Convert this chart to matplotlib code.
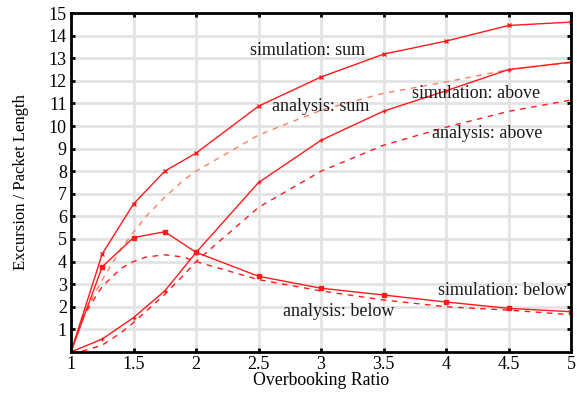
import matplotlib
matplotlib.use("Agg")
import matplotlib.pyplot as plt

# ------------------------------------------------------------
# Data
# ------------------------------------------------------------
ratio = [1, 1.25, 1.5, 1.75, 2, 2.5, 3, 3.5, 4, 4.5, 5]

sim_sum = [0, 4.34, 6.55, 8.0, 8.8, 10.88, 12.17, 13.18, 13.76, 14.45, 14.6]
sim_above = [0, 0.57, 1.52, 2.7, 4.4, 7.5, 9.37, 10.66, 11.56, 12.5, 12.83]
sim_below = [0, 3.77, 5.06, 5.32, 4.41, 3.35, 2.82, 2.52, 2.21, 1.93, 1.78]

ana_x = [1, 1.1, 1.25, 1.4, 1.5, 1.6, 1.75, 1.9, 2, 2.5, 3, 3.5, 4, 4.5, 5]
ana_above = [0, 0.05, 0.3, 0.85, 1.3, 1.8, 2.55, 3.4, 4.0, 6.4, 8.0, 9.15, 9.95, 10.65, 11.15]
ana_below = [0, 1.6, 2.9, 3.7, 4.0, 4.2, 4.3, 4.2, 4.0, 3.2, 2.7, 2.3, 2.0, 1.85, 1.65]
ana_sum = [a + b for a, b in zip(ana_above, ana_below)]

x_ticks = [1, 1.5, 2, 2.5, 3, 3.5, 4, 4.5, 5]
x_labels = ['1', '1.5', '2', '2.5', '3', '3.5', '4', '4.5', '5']
y_ticks = list(range(1, 16))

labels = [
    ('simulation: sum', 2.89, 13.36),
    ('analysis: sum', 3.0, 10.88),
    ('simulation: above', 4.24, 11.46),
    ('analysis: above', 4.33, 9.65),
    ('simulation: below', 4.45, 2.7),
    ('analysis: below', 3.14, 1.8),
]

# ------------------------------------------------------------
# Plot
# ------------------------------------------------------------
plt.rcParams['font.family'] = ['Liberation Serif', 'DejaVu Serif']

fig = plt.figure(figsize=(5.77, 3.95), dpi=100)
ax = fig.add_axes([0.123, 0.109, 0.867, 0.858])

red = '#ff1a1a'
orange = '#ff7f60'
dash = (0, (4, 4))

ax.plot(ana_x, ana_sum, color=orange, lw=1.0, linestyle=dash)
ax.plot(ana_x, ana_above, color=red, lw=1.0, linestyle=dash)
ax.plot(ana_x, ana_below, color=red, lw=1.0, linestyle=dash)

ax.plot(ratio, sim_sum, color=red, lw=1.0, marker='x', ms=3, mew=1.0)
ax.plot(ratio, sim_above, color=red, lw=1.0, marker='+', ms=3.5, mew=1.0)
ax.plot(ratio, sim_below, color=red, lw=1.0, marker='s', ms=3)

for text, x, y in labels:
    ax.text(x, y, text, ha='center', va='center', fontsize=13, color='#1a1a1a')

ax.set_xlim(1, 5)
ax.set_ylim(0, 15)
ax.set_xticks(x_ticks)
ax.set_xticklabels(x_labels)
ax.set_yticks(y_ticks)
ax.tick_params(direction='in', top=True, right=True, length=3, width=2,
               labelsize=13, pad=3)
ax.grid(True, color='#e3e3e3', lw=2)
ax.set_axisbelow(True)
for s in ax.spines.values():
    s.set_linewidth(2)

ax.set_xlabel('Overbooking Ratio', fontsize=12.8, labelpad=-1)
ax.set_ylabel('Excursion / Packet Length', fontsize=12, labelpad=14)

plt.savefig('out.png', dpi=100)
